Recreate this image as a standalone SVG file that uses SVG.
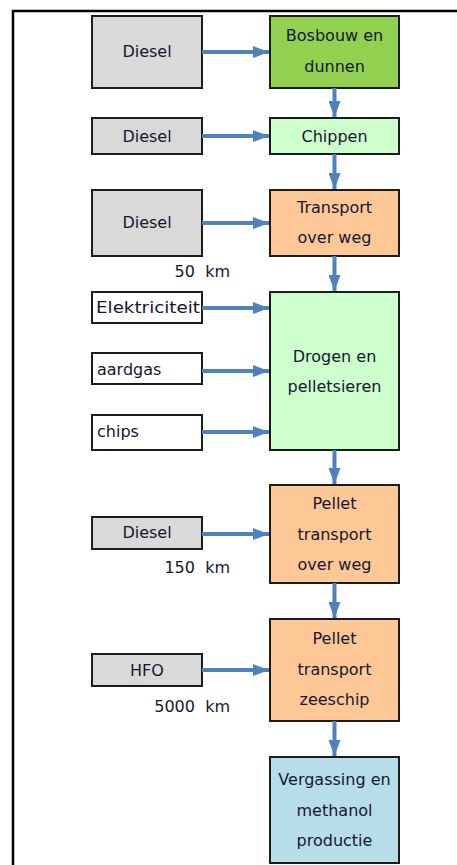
<svg xmlns="http://www.w3.org/2000/svg" width="457" height="865" viewBox="0 0 457 865">
<defs>
<marker id="ah" markerWidth="4" markerHeight="3" refX="4" refY="1.5" orient="auto" markerUnits="strokeWidth">
<path d="M0,0 L4,1.5 L0,3 Z" fill="#4f81bd"/>
</marker>
</defs>
<style>
.b{stroke:#1c1c1c;stroke-width:2}
.g{fill:#d9d9d9}.w{fill:#ffffff}
text{font-family:"DejaVu Sans",Verdana,sans-serif;font-size:16px;fill:#161630}
.c{text-anchor:middle}
.k{white-space:pre;text-anchor:end}
.a{stroke:#4f81bd;stroke-width:4;fill:none;marker-end:url(#ah)}
</style>
<rect width="457" height="865" fill="#ffffff"/>
<path d="M13,865 V11 H457" fill="none" stroke="#000" stroke-width="2.5"/>
<g id="diesel1"><rect class="b g" x="92" y="16" width="110" height="72"/><text class="c" x="147" y="57">Diesel</text></g>
<g id="bosbouw"><rect class="b" fill="#92d050" x="270" y="16" width="129" height="72"/><text class="c" x="334.5" y="41">Bosbouw en</text><text class="c" x="334.5" y="72">dunnen</text></g>
<g id="diesel2"><rect class="b g" x="92" y="118" width="110" height="36"/><text class="c" x="147" y="142">Diesel</text></g>
<g id="chippen"><rect class="b" fill="#ccffcc" x="270" y="118" width="129" height="36"/><text class="c" x="334.5" y="142">Chippen</text></g>
<g id="diesel3"><rect class="b g" x="92" y="190" width="110" height="66"/><text class="c" x="147" y="228">Diesel</text></g>
<g id="transport"><rect class="b" fill="#fdc896" x="270" y="190" width="129" height="66"/><text class="c" x="334.5" y="213">Transport</text><text class="c" x="334.5" y="243">over weg</text></g>
<text class="k" x="230" y="277">50  km</text>
<g id="elek"><rect class="b w" x="92" y="292" width="110" height="31"/><text x="96" y="313" textLength="104" lengthAdjust="spacingAndGlyphs">Elektriciteit</text></g>
<g id="aardgas"><rect class="b w" x="92" y="353" width="110" height="31"/><text x="97" y="375">aardgas</text></g>
<g id="chips"><rect class="b w" x="92" y="415" width="110" height="35"/><text x="97" y="437">chips</text></g>
<g id="drogen"><rect class="b" fill="#ccffcc" x="270" y="292" width="129" height="158"/><text class="c" x="334.5" y="362">Drogen en</text><text class="c" x="334.5" y="392">pelletsieren</text></g>
<g id="diesel4"><rect class="b g" x="92" y="517" width="110" height="32"/><text class="c" x="147" y="538">Diesel</text></g>
<g id="pellet1"><rect class="b" fill="#fdc896" x="270" y="485" width="129" height="98"/><text class="c" x="334.5" y="509">Pellet</text><text class="c" x="334.5" y="540">transport</text><text class="c" x="334.5" y="570">over weg</text></g>
<text class="k" x="230" y="573">150  km</text>
<g id="hfo"><rect class="b g" x="92" y="654" width="110" height="32"/><text class="c" x="147" y="676">HFO</text></g>
<g id="pellet2"><rect class="b" fill="#fdc896" x="270" y="619" width="129" height="102"/><text class="c" x="334.5" y="644">Pellet</text><text class="c" x="334.5" y="675">transport</text><text class="c" x="334.5" y="705">zeeschip</text></g>
<text class="k" x="230" y="712">5000  km</text>
<g id="vergassing"><rect class="b" fill="#b7dde8" x="270" y="757" width="129" height="106"/><text class="c" x="334.5" y="785">Vergassing en</text><text class="c" x="334.5" y="816">methanol</text><text class="c" x="334.5" y="846">productie</text></g>
<g id="connectors">
<path class="a" d="M202,52 H269"/>
<path class="a" d="M202,136 H269"/>
<path class="a" d="M202,223 H269"/>
<path class="a" d="M202,308 H269"/>
<path class="a" d="M202,371 H269"/>
<path class="a" d="M202,432 H269"/>
<path class="a" d="M202,534 H269"/>
<path class="a" d="M202,670 H269"/>
<path class="a" d="M334.5,88 V117"/>
<path class="a" d="M334.5,154 V189"/>
<path class="a" d="M334.5,256 V291"/>
<path class="a" d="M334.5,450 V484"/>
<path class="a" d="M334.5,583 V618"/>
<path class="a" d="M334.5,721 V756"/>
</g>
</svg>
